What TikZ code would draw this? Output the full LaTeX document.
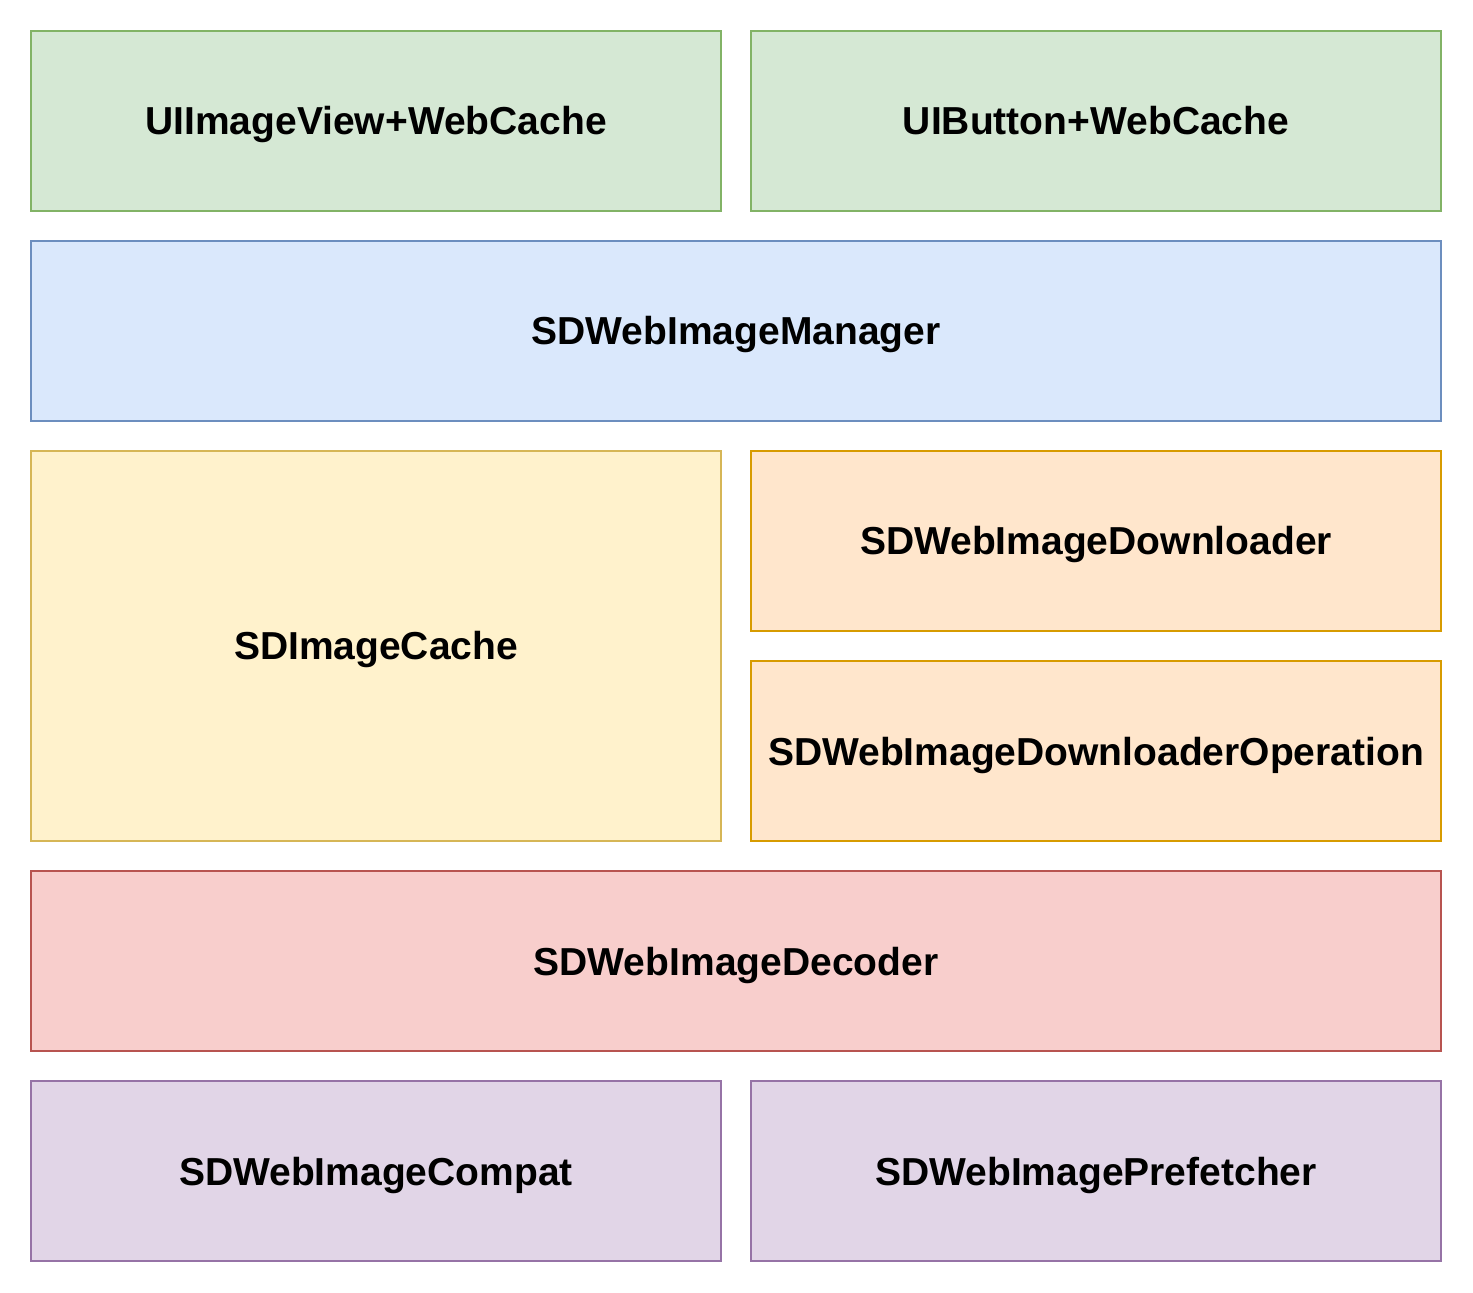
\documentclass[tikz,border=0pt]{standalone}
\usepackage{fontspec}
\setmainfont{Liberation Sans}
\definecolor{gFill}{HTML}{D5E8D4}
\definecolor{gLine}{HTML}{82B366}
\definecolor{bFill}{HTML}{DAE8FC}
\definecolor{bLine}{HTML}{6C8EBF}
\definecolor{yFill}{HTML}{FFF2CC}
\definecolor{yLine}{HTML}{D6B656}
\definecolor{oFill}{HTML}{FFE6CC}
\definecolor{oLine}{HTML}{D79B00}
\definecolor{rFill}{HTML}{F8CECC}
\definecolor{rLine}{HTML}{B85450}
\definecolor{pFill}{HTML}{E1D5E7}
\definecolor{pLine}{HTML}{9673A6}
\usepackage{tikz}
\usetikzlibrary{positioning}
\tikzset{
  layer/.style={draw=#1Line, fill=#1Fill, line width=1.1pt, inner sep=0pt,
    text height=0.56cm, text depth=0pt,
    minimum height=3.6cm, font=\fontsize{22.2}{26}\selectfont\bfseries, text=black},
  halfw/.style={minimum width=13.8cm},
  fullw/.style={minimum width=28.2cm}
}
\begin{document}
\begin{tikzpicture}[x=0.02cm, y=-0.02cm]
\useasboundingbox[fill=white] (0,0) rectangle (1473,1293);
% top row: categories
\node[layer=g, halfw] (imgview) at (376,121) {UIImageView+WebCache};
\node[layer=g, halfw] (button) at (1096,121) {UIButton+WebCache};
% manager
\node[layer=b, fullw] (manager) at (736,331) {SDWebImageManager};
% cache and downloader
\node[layer=y, halfw, minimum height=7.8cm] (cache) at (376,646) {SDImageCache};
\node[layer=o, halfw] (downloader) at (1096,541) {SDWebImageDownloader};
\node[layer=o, halfw] (operation) at (1096,751) {SDWebImageDownloaderOperation};
% decoder
\node[layer=r, fullw] (decoder) at (736,961) {SDWebImageDecoder};
% bottom row
\node[layer=p, halfw] (compat) at (376,1171) {SDWebImageCompat};
\node[layer=p, halfw] (prefetch) at (1096,1171) {SDWebImagePrefetcher};
\end{tikzpicture}
\end{document}
